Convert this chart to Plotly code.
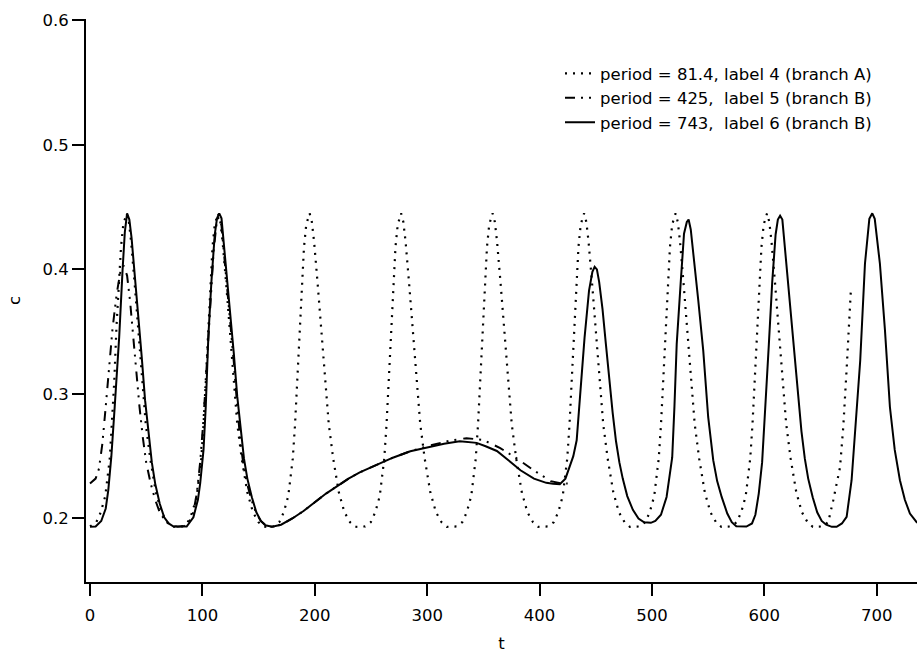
import plotly.graph_objects as go

# ---- data ----
# dotted: period = 81.4, label 4 (branch A)
dot_t = [0, 5.6, 9.6, 13.6, 17.6, 19.6, 21.6, 23.6, 25.6, 27.6, 29.6, 32.6, 34.6, 36.6, 39.6, 42.6, 46.6, 49.6, 53.6, 58.6, 63.6, 68.6, 73.3,
         82, 87, 91, 95, 99, 101, 103, 105, 107, 109, 111, 114, 116, 118, 121, 124, 128, 131, 135, 140, 145, 150, 154.7,
         163.4, 168.4, 172.4, 176.4, 180.4, 182.4, 184.4, 186.4, 188.4, 190.4, 192.4, 195.4, 197.4, 199.4, 202.4, 205.4, 209.4, 212.4, 216.4, 221.4, 226.4, 231.4, 236.1,
         244.8, 249.8, 253.8, 257.8, 261.8, 263.8, 265.8, 267.8, 269.8, 271.8, 273.8, 276.8, 278.8, 280.8, 283.8, 286.8, 290.8, 293.8, 297.8, 302.8, 307.8, 312.8, 317.5,
         326.2, 331.2, 335.2, 339.2, 343.2, 345.2, 347.2, 349.2, 351.2, 353.2, 355.2, 358.2, 360.2, 362.2, 365.2, 368.2, 372.2, 375.2, 379.2, 384.2, 389.2, 394.2, 398.9,
         407.6, 412.6, 416.6, 420.6, 424.6, 426.6, 428.6, 430.6, 432.6, 434.6, 436.6, 439.6, 441.6, 443.6, 446.6, 449.6, 453.6, 456.6, 460.6, 465.6, 470.6, 475.6, 480.3,
         489, 494, 498, 502, 506, 508, 510, 512, 514, 516, 518, 521, 523, 525, 528, 531, 535, 538, 542, 547, 552, 557, 561.7,
         570.4, 575.4, 579.4, 583.4, 587.4, 589.4, 591.4, 593.4, 595.4, 597.4, 599.4, 602.4, 604.4, 606.4, 609.4, 612.4, 616.4, 619.4, 623.4, 628.4, 633.4, 638.4, 643.1,
         651.8, 656.8, 661.3, 667.3, 670.2, 673.2, 676.2, 677.0]
dot_c = [0.1936, 0.197, 0.205, 0.218, 0.248, 0.275, 0.31, 0.355, 0.39, 0.418, 0.436, 0.445, 0.438, 0.422, 0.39, 0.355, 0.308, 0.276, 0.248, 0.221, 0.205, 0.197, 0.1933,
         0.1936, 0.197, 0.205, 0.218, 0.248, 0.275, 0.31, 0.355, 0.39, 0.418, 0.436, 0.445, 0.438, 0.422, 0.39, 0.355, 0.308, 0.276, 0.248, 0.221, 0.205, 0.197, 0.1933,
         0.1936, 0.197, 0.205, 0.218, 0.248, 0.275, 0.31, 0.355, 0.39, 0.418, 0.436, 0.445, 0.438, 0.422, 0.39, 0.355, 0.308, 0.276, 0.248, 0.221, 0.205, 0.197, 0.1933,
         0.1936, 0.197, 0.205, 0.218, 0.248, 0.275, 0.31, 0.355, 0.39, 0.418, 0.436, 0.445, 0.438, 0.422, 0.39, 0.355, 0.308, 0.276, 0.248, 0.221, 0.205, 0.197, 0.1933,
         0.1936, 0.197, 0.205, 0.218, 0.248, 0.275, 0.31, 0.355, 0.39, 0.418, 0.436, 0.445, 0.438, 0.422, 0.39, 0.355, 0.308, 0.276, 0.248, 0.221, 0.205, 0.197, 0.1933,
         0.1936, 0.197, 0.205, 0.218, 0.248, 0.275, 0.31, 0.355, 0.39, 0.418, 0.436, 0.445, 0.438, 0.422, 0.39, 0.355, 0.308, 0.276, 0.248, 0.221, 0.205, 0.197, 0.1933,
         0.1936, 0.197, 0.205, 0.218, 0.248, 0.275, 0.31, 0.355, 0.39, 0.418, 0.436, 0.445, 0.438, 0.422, 0.39, 0.355, 0.308, 0.276, 0.248, 0.221, 0.205, 0.197, 0.1933,
         0.1936, 0.197, 0.205, 0.218, 0.248, 0.275, 0.31, 0.355, 0.39, 0.418, 0.436, 0.445, 0.438, 0.422, 0.39, 0.355, 0.308, 0.276, 0.248, 0.221, 0.205, 0.197, 0.1933,
         0.1936, 0.197, 0.2147, 0.241, 0.2735, 0.32, 0.364, 0.384]

# dash-dot: period = 425, label 5 (branch B)
dd_t = [0, 5, 8, 11, 14, 17, 20, 23.7, 27, 30,
        33, 35.6, 38, 41, 44, 47, 50, 54, 58, 62,
        67, 72, 78, 84, 88, 92, 95, 98, 101, 104,
        107, 110, 113, 115, 117, 119, 122, 125, 128, 131,
        134, 137, 140, 144, 148, 152, 157, 162, 170, 180,
        190, 200, 210, 220, 230, 240, 250, 258, 270, 285,
        300, 320, 335, 350, 365, 380, 395, 410, 420, 425]
dd_c = [0.228, 0.232, 0.24, 0.26, 0.29, 0.32, 0.352, 0.38, 0.398, 0.403,
        0.395, 0.375, 0.35, 0.32, 0.29, 0.265, 0.245, 0.228, 0.215, 0.205,
        0.198, 0.1945, 0.1933, 0.194, 0.197, 0.205, 0.22, 0.245, 0.28, 0.325,
        0.375, 0.415, 0.44, 0.442, 0.435, 0.415, 0.39, 0.355, 0.325, 0.29,
        0.26, 0.24, 0.227, 0.214, 0.204, 0.198, 0.194, 0.1933, 0.195, 0.2,
        0.206, 0.213, 0.22, 0.226, 0.232, 0.237, 0.241, 0.244, 0.249, 0.254,
        0.258, 0.2625, 0.2645, 0.263, 0.2565, 0.248, 0.2385, 0.23, 0.228, 0.228]

# solid: period = 743, label 6 (branch B)
sol_t = [0, 5, 10, 14, 16.3, 19, 22, 26, 29, 31, 33, 35, 37, 40, 43, 46, 49, 52, 55, 58, 62, 66, 70, 74, 80, 86,
         92, 96, 98, 101, 103, 105.3, 108, 111, 113, 115, 117, 119, 122, 125, 128, 131, 134, 137, 140, 144, 148, 152, 156, 162,
         170, 180, 190, 200, 210, 220, 230, 240, 250, 258, 270, 285, 300, 315, 329, 344, 352, 362, 372, 383, 395, 406, 412, 418, 423, 427, 430, 433, 436,
         440, 444, 447, 449, 451, 453, 456, 459, 462, 465, 468, 471, 474, 478, 483, 488, 493, 499,
         503, 508, 513, 518, 520, 522, 525.5, 528.5, 531, 532.6, 534.5, 536.7, 541.2, 545.6, 550, 554.5, 558, 562, 567, 571, 575,
         584, 589, 592, 595, 598, 600, 602, 604, 607, 610, 612, 614, 616, 618, 621, 624, 627, 630, 633, 636, 639, 643, 647, 651, 655, 660,
         664.3, 669, 673.2, 677.6, 682, 685.3, 689.5, 693.4, 696, 698.2, 702.8, 707.3, 711.7, 716, 720.6, 725, 729.5, 735.5, 740]
sol_c = [0.1933, 0.1935, 0.198, 0.208, 0.223, 0.25, 0.29, 0.346, 0.40, 0.43, 0.445, 0.44, 0.425, 0.395, 0.362, 0.33, 0.295, 0.268, 0.245, 0.228, 0.212, 0.201, 0.196, 0.1937, 0.1933, 0.1935,
         0.201, 0.215, 0.228, 0.255, 0.29, 0.346, 0.39, 0.428, 0.441, 0.445, 0.441, 0.422, 0.395, 0.362, 0.332, 0.298, 0.27, 0.248, 0.232, 0.217, 0.205, 0.198, 0.1945, 0.1933,
         0.195, 0.2, 0.206, 0.213, 0.22, 0.226, 0.232, 0.237, 0.241, 0.244, 0.249, 0.254, 0.257, 0.26, 0.262, 0.2607, 0.258, 0.2542, 0.247, 0.2387, 0.232, 0.2286, 0.2278, 0.2275, 0.232, 0.2414, 0.25, 0.2628, 0.30,
         0.345, 0.383, 0.398, 0.402, 0.4, 0.39, 0.368, 0.34, 0.31, 0.285, 0.262, 0.245, 0.232, 0.218, 0.207, 0.2, 0.197, 0.1965,
         0.198, 0.203, 0.2173, 0.249, 0.29, 0.34, 0.3885, 0.4286, 0.438, 0.44, 0.432, 0.415, 0.375, 0.335, 0.2815, 0.2468, 0.23, 0.2173, 0.204, 0.197, 0.1937,
         0.1935, 0.196, 0.203, 0.22, 0.245, 0.275, 0.305, 0.34, 0.39, 0.428, 0.44, 0.443, 0.44, 0.42, 0.393, 0.36, 0.332, 0.298, 0.27, 0.248, 0.232, 0.217, 0.205, 0.198, 0.195, 0.1933,
         0.1933, 0.196, 0.2013, 0.2307, 0.284, 0.327, 0.4045, 0.4406, 0.445, 0.4406, 0.4045, 0.351, 0.2895, 0.255, 0.2307, 0.215, 0.204, 0.197, 0.195]

names = ["period = 81.4, label 4 (branch A)",
         "period = 425,\u00a0 label 5 (branch B)",
         "period = 743,\u00a0 label 6 (branch B)"]

x_ticks = [0, 100, 200, 300, 400, 500, 600, 700]
y_ticks = [0.2, 0.3, 0.4, 0.5, 0.6]

FONT = "DejaVu Sans, Liberation Sans, Arial, sans-serif"
FS = 16.5

fig = go.Figure()
fig.add_trace(go.Scatter(x=dot_t, y=dot_c, mode="lines", name=names[0],
                         line=dict(color="black", width=2.2, dash="2px,6px")))
fig.add_trace(go.Scatter(x=dd_t, y=dd_c, mode="lines", name=names[1],
                         line=dict(color="black", width=2, dash="10px,6px,2px,6px,2px,7px")))
fig.add_trace(go.Scatter(x=sol_t, y=sol_c, mode="lines", name=names[2],
                         line=dict(color="black", width=2)))

axis_common = dict(showline=True, linecolor="black", linewidth=2, ticks="outside",
                   ticklen=12, tickwidth=1.5, tickcolor="black", showgrid=False,
                   zeroline=False, tickfont=dict(family=FONT, size=FS, color="black"))

fig.update_layout(
    width=917, height=656,
    margin=dict(l=86, r=0, t=19, b=74),
    paper_bgcolor="white", plot_bgcolor="white",
    font=dict(family=FONT, size=FS, color="black"),
    showlegend=True,
    legend=dict(x=0.5704, y=0.934, xanchor="left", yanchor="top",
                bgcolor="rgba(0,0,0,0)", font=dict(family=FONT, size=FS, color="black"),
                tracegroupgap=0),
    xaxis=dict(range=[-3.56, 735.8], tickvals=x_ticks, ticktext=[str(v) for v in x_ticks],
               ticklabelstandoff=5,
               title=dict(text="t", font=dict(family=FONT, size=FS), standoff=14), **axis_common),
    yaxis=dict(range=[0.149, 0.601], tickvals=y_ticks, ticktext=[f"{v:.1f}" for v in y_ticks],
               title=dict(text="c", font=dict(family=FONT, size=FS), standoff=18), **axis_common),
)

fig.write_html("out.html")
